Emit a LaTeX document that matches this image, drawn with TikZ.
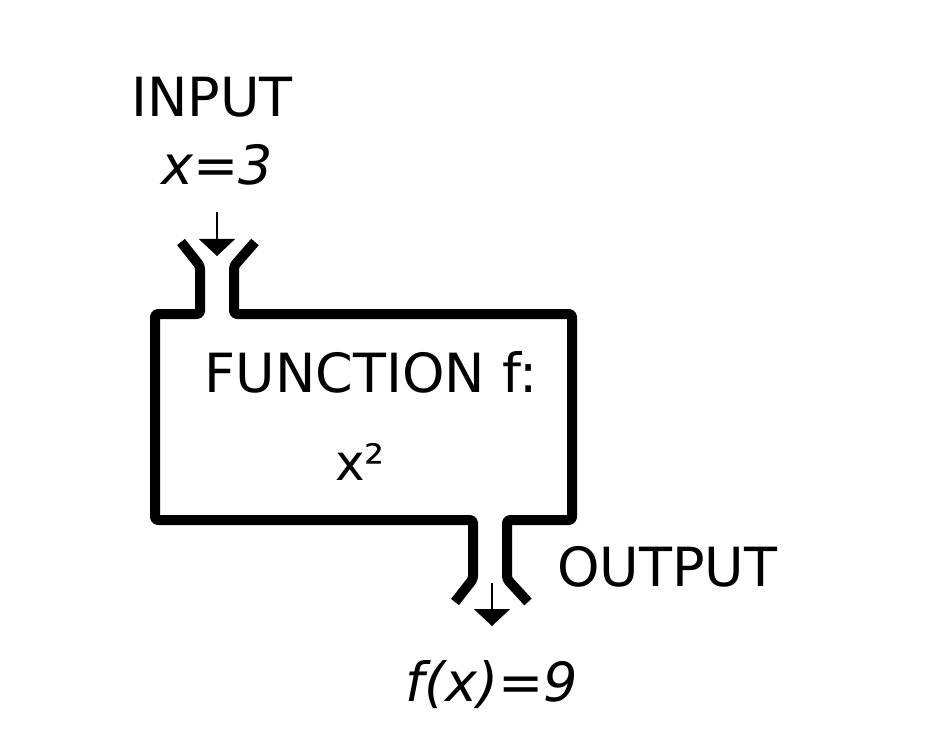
\documentclass[tikz,border=0pt]{standalone}
\usepackage{fontspec}
\setmainfont{DejaVu Sans}
\usetikzlibrary{positioning, arrows.meta}

\begin{document}
\begin{tikzpicture}[x=1pt, y=-1pt]
    \tikzstyle{txt}=[font=\fontsize{54}{60}\selectfont, inner sep=0]
    \tikzstyle{wall}=[line width=10pt, line join=round, rounded corners=3pt]
    \tikzstyle{flow}=[line width=2pt, -{Triangle[width=36pt, length=17pt]}]

    \useasboundingbox (0,0) rectangle (932,754);

    % machine body with its two funnels
    \draw[wall] (181,242) -- (200,266) -- (200,314) -- (155,314) -- (155,520)
        -- (473,520) -- (473,579) -- (455,602);
    \draw[wall] (255,242) -- (234,266) -- (234,314) -- (572,314) -- (572,520)
        -- (507,520) -- (507,579) -- (528,602);

    \node[txt] (input) at (212,97) {INPUT};
    \node[txt, below of=input, node distance=68pt, xshift=5pt] (inval) {\itshape x=3};
    \node[txt] (func) at (371,372) {FUNCTION f:};
    \node[txt, font=\fontsize{50}{56}\selectfont] (square) at (360,462) {x²};
    \node[txt, anchor=west] (output) at (557,567) {OUTPUT};
    \node[txt] (outval) at (492,685) {\itshape f(x)=9};

    \coordinate (intop) at (217,212);
    \coordinate (intip) at (217,256);
    \coordinate (outtop) at (492,583);
    \coordinate (outtip) at (492,626);

    \draw[flow] (intop) -- (intip);
    \draw[flow] (outtop) -- (outtip);
\end{tikzpicture}
\end{document}
